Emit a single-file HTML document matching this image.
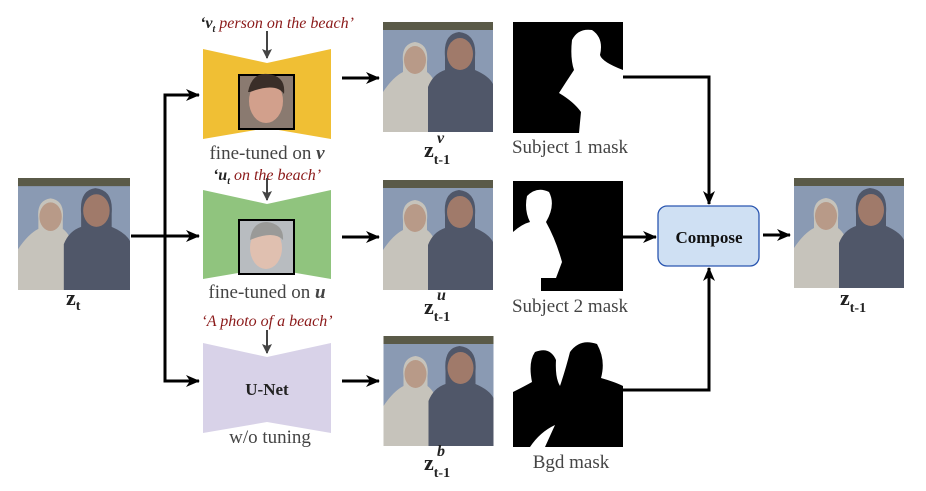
<!DOCTYPE html>
<html><head><meta charset="utf-8"><style>
html,body{margin:0;padding:0;background:#fff;}
svg{display:block;}
text{font-family:"Liberation Serif",serif;}
</style></head><body>
<svg width="926" height="491" viewBox="0 0 926 491" xmlns="http://www.w3.org/2000/svg">
<defs>
<symbol id="ph" viewBox="0 0 110 110">
<rect width="110" height="110" fill="#8a9ab3"/>
<rect width="110" height="8" fill="#5a5a48"/>
<path d="M0 70 Q10 55 20 50 L20 40 Q18 22 32 20 Q46 22 44 40 L44 50 Q52 56 55 70 L55 110 L0 110Z" fill="#c6c3bb"/>
<path d="M45 110 L45 65 Q50 52 62 48 L62 35 Q60 12 76 10 Q94 12 92 35 L92 48 Q106 54 110 62 L110 110Z" fill="#505769"/>
<ellipse cx="77" cy="32" rx="13" ry="16" fill="#a07a6a"/>
<ellipse cx="32" cy="38" rx="11" ry="14" fill="#b89a88"/>
</symbol>
<marker id="ah" markerWidth="14" markerHeight="12" refX="13" refY="6" orient="auto" markerUnits="userSpaceOnUse">
<path d="M0 0 L14 6 L0 12 L4 6Z" fill="#000"/></marker>
<marker id="ag" markerWidth="10" markerHeight="10" refX="9" refY="5" orient="auto" markerUnits="userSpaceOnUse">
<path d="M0 0 L10 5 L0 10 L2 5Z" fill="#444"/></marker>
</defs>

<use href="#ph" x="18" y="178" width="112" height="112"/>
<use href="#ph" x="383" y="22" width="110" height="110"/>
<use href="#ph" x="383" y="180" width="110" height="110"/>
<use href="#ph" x="383" y="336" width="111" height="110"/>
<use href="#ph" x="794" y="178" width="110" height="110"/>

<path d="M203 49 L267 63 L331 49 L331 139 L267 128 L203 139Z" fill="#f0bf34"/>
<path d="M203 190 L267 204 L331 190 L331 279 L267 268 L203 279Z" fill="#90c47e"/>
<path d="M203 343 L267 357 L331 343 L331 433 L267 422 L203 433Z" fill="#d8d2e8"/>
<rect x="239" y="75" width="55" height="54" fill="#8a7a70" stroke="#000" stroke-width="2"/>
<ellipse cx="266" cy="101" rx="17" ry="22" fill="#d2a08c"/>
<path d="M248 92 Q252 72 268 74 Q286 76 284 94 Q276 82 250 92Z" fill="#3a2e28"/>
<rect x="239" y="220" width="55" height="54" fill="#b8bcc0" stroke="#000" stroke-width="2"/>
<ellipse cx="266" cy="248" rx="16" ry="21" fill="#e0c0b0"/>
<path d="M250 240 Q252 222 267 222 Q284 224 283 240 Q274 230 250 240Z" fill="#9a9a98"/>

<text x="267" y="395" font-size="17" font-weight="bold" text-anchor="middle" fill="#222">U-Net</text>

<text x="277" y="28" font-size="16" font-style="italic" text-anchor="middle" fill="#8b1a1a"><tspan fill="#222" font-weight="bold">‘v</tspan><tspan fill="#222" font-weight="bold" font-size="10" dy="4">t</tspan><tspan dy="-4"> person on the beach’</tspan></text>
<text x="267" y="180" font-size="16" font-style="italic" text-anchor="middle" fill="#8b1a1a"><tspan fill="#222" font-weight="bold">‘u</tspan><tspan fill="#222" font-weight="bold" font-size="10" dy="4">t</tspan><tspan dy="-4"> on the beach’</tspan></text>
<text x="267" y="326" font-size="16" font-style="italic" text-anchor="middle" fill="#8b1a1a">‘A photo of a beach’</text>
<line x1="267" y1="31" x2="267" y2="58" stroke="#444" stroke-width="2" marker-end="url(#ag)"/>
<line x1="267" y1="178" x2="267" y2="200" stroke="#444" stroke-width="2" marker-end="url(#ag)"/>
<line x1="267" y1="330" x2="267" y2="353" stroke="#444" stroke-width="2" marker-end="url(#ag)"/>

<text x="267" y="159" font-size="19" text-anchor="middle" fill="#444">fine-tuned on <tspan font-weight="bold" font-style="italic">v</tspan></text>
<text x="267" y="298" font-size="19" text-anchor="middle" fill="#444">fine-tuned on <tspan font-weight="bold" font-style="italic">u</tspan></text>
<text x="270" y="443" font-size="19" text-anchor="middle" fill="#444">w/o tuning</text>

<g font-weight="bold" fill="#222">
<text x="66" y="305" font-size="22">z<tspan font-size="14" dy="5">t</tspan></text>
<text x="424" y="157" font-size="22">z<tspan font-size="14" dy="7">t-1</tspan></text>
<text x="437" y="143" font-size="16" font-style="italic">v</text>
<text x="424" y="314" font-size="22">z<tspan font-size="14" dy="7">t-1</tspan></text>
<text x="437" y="300" font-size="16" font-style="italic">u</text>
<text x="424" y="470" font-size="22">z<tspan font-size="14" dy="7">t-1</tspan></text>
<text x="437" y="456" font-size="16" font-style="italic">b</text>
<text x="840" y="305" font-size="22">z<tspan font-size="14" dy="7">t-1</tspan></text>
</g>

<rect x="513" y="22" width="110" height="111" fill="#000"/>
<path d="M579 133 L581 112 Q574 102 559 93 Q566 82 574 70 Q570 58 572 40 Q578 28 592 30 Q604 38 600 55 Q602 62 623 70 L623 133Z" fill="#fff"/>
<rect x="513" y="181" width="110" height="110" fill="#000"/>
<path d="M513 250 L513 232 Q522 224 530 222 Q524 210 527 196 Q537 186 549 192 Q556 205 546 222 Q556 240 562 262 L556 278 L541 278 L541 291 L513 291Z" fill="#fff"/>
<path d="M513 447 L513 392 Q525 386 532 382 Q528 362 535 352 Q550 346 556 360 Q555 378 560 386 Q566 368 570 352 Q580 338 597 344 Q606 360 601 378 Q615 382 623 386 L623 447 L545 447 L555 425 Q540 432 530 447Z" fill="#000"/>
<g font-size="19" fill="#444" text-anchor="middle">
<text x="570" y="153">Subject 1 mask</text>
<text x="570" y="312">Subject 2 mask</text>
<text x="571" y="468">Bgd mask</text>
</g>

<rect x="658" y="206" width="101" height="60" rx="9" fill="#cfe0f3" stroke="#2a56b0" stroke-width="1.3"/>
<text x="709" y="243" font-size="17" font-weight="bold" text-anchor="middle" fill="#111">Compose</text>

<g stroke="#000" stroke-width="3" fill="none">
<line x1="131" y1="236" x2="199" y2="236" marker-end="url(#ah)"/>
<polyline points="165,381 165,95 199,95" marker-end="url(#ah)"/>
<polyline points="165,236 165,381 199,381" marker-end="url(#ah)"/>
<line x1="342" y1="78" x2="379" y2="78" marker-end="url(#ah)"/>
<line x1="342" y1="237" x2="379" y2="237" marker-end="url(#ah)"/>
<line x1="342" y1="381" x2="379" y2="381" marker-end="url(#ah)"/>
<polyline points="623,77 709,77 709,204" marker-end="url(#ah)"/>
<line x1="623" y1="237" x2="656" y2="237" marker-end="url(#ah)"/>
<polyline points="623,390 709,390 709,268" marker-end="url(#ah)"/>
<line x1="763" y1="235" x2="790" y2="235" marker-end="url(#ah)"/>
</g>
</svg>
</body></html>
